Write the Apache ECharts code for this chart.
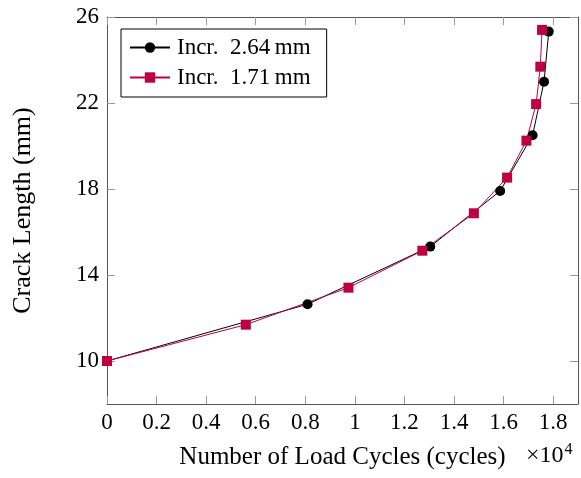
<!DOCTYPE html>
<html>
<head>
<meta charset="utf-8">
<script src="https://cdn.jsdelivr.net/npm/echarts@6/dist/echarts.min.js"></script>
<style>
    html, body { margin: 0; padding: 0; background: #fff; }
    #chart { width: 581px; height: 478px; }
</style>
</head>
<body>
<div id="chart"></div>
<script>
// 데이터
var seriesNames = ['Incr.  2.64\u2009mm', 'Incr.  1.71\u2009mm'];
var cyclesA = [0, 8090, 13040, 15860, 17170, 17630, 17820];
var crackA = [10, 12.64, 15.32, 17.91, 20.50, 22.99, 25.32];
var cyclesB = [0, 5600, 9740, 12720, 14800, 16140, 16920, 17310, 17480, 17550];
var crackB = [10, 11.69, 13.41, 15.13, 16.87, 18.53, 20.25, 21.95, 23.69, 25.40];
var xTicks = [0, 2000, 4000, 6000, 8000, 10000, 12000, 14000, 16000, 18000];
var yTicks = [10, 14, 18, 22, 26];

var FONT = '"Liberation Serif", "DejaVu Serif", serif';
var AXIS_COLOR = '#555';
var TICK_COLOR = '#999';

function pairs(xs, ys) {
    return xs.map(function(x, i) { return [x, ys[i]]; });
}

function frameAxis(position, ticks, showLabel, extra) {
    var axis = {
        type: 'value',
        position: position,
        axisLine: { show: true, onZero: false, lineStyle: { color: AXIS_COLOR, width: 1 } },
        axisTick: { show: true, inside: true, length: 8, customValues: ticks,
                    lineStyle: { color: TICK_COLOR, width: 1 } },
        axisLabel: { show: showLabel, customValues: ticks, fontFamily: FONT,
                     fontSize: 23, color: '#000' },
        splitLine: { show: false }
    };
    for (var k in extra) axis[k] = extra[k];
    return axis;
}

var chart = echarts.init(document.getElementById('chart'));

var option = {
    animation: false,
    grid: { left: 107, top: 17, width: 471, height: 387, containLabel: false },
    legend: {
        data: seriesNames,
        orient: 'vertical',
        left: 121,
        top: 29,
        padding: [7, 16, 8, 8],
        itemGap: 7,
        itemWidth: 40,
        itemHeight: 13,
        borderColor: '#000',
        borderWidth: 1,
        backgroundColor: '#fff',
        textStyle: { fontFamily: FONT, fontSize: 23, color: '#000', padding: [0, 0, 0, 2] }
    },
    xAxis: [
        frameAxis('bottom', xTicks, true, {
            min: 0, max: 19000,
            name: 'Number of Load Cycles (cycles)',
            nameLocation: 'middle',
            nameGap: 41,
            nameTextStyle: { fontFamily: FONT, fontSize: 25, color: '#000' }
        }),
        frameAxis('top', xTicks, false, { min: 0, max: 19000 })
    ],
    yAxis: [
        frameAxis('left', yTicks, true, {
            min: 8, max: 26,
            name: 'Crack Length (mm)',
            nameLocation: 'middle',
            nameGap: 71,
            nameTextStyle: { fontFamily: FONT, fontSize: 26, color: '#000' }
        }),
        frameAxis('right', yTicks, false, { min: 8, max: 26 })
    ],
    series: [
        {
            name: seriesNames[0],
            type: 'line',
            data: pairs(cyclesA, crackA),
            symbol: 'circle',
            symbolSize: 10,
            lineStyle: { color: '#000', width: 1 },
            itemStyle: { color: '#000' }
        },
        {
            name: seriesNames[1],
            type: 'line',
            data: pairs(cyclesB, crackB),
            symbol: 'rect',
            symbolSize: 10,
            lineStyle: { color: '#BF0040', width: 1 },
            itemStyle: { color: '#BF0040' }
        }
    ]
};

// x축 값 표시: 1e4 단위
option.xAxis[0].axisLabel.formatter = function(v) { return String(v / 10000); };
option.xAxis[0].axisLabel.margin = 7;
option.yAxis[0].axisLabel.margin = 8;

// ×10^4 배율 표시
option.graphic = [{
    type: 'text',
    left: 526,
    top: 442,
    style: {
        text: '{b|×10}{s|4}',
        rich: {
            b: { fontFamily: FONT, fontSize: 24, color: '#000' },
            s: { fontFamily: FONT, fontSize: 16, color: '#000', verticalAlign: 'top', padding: [0, 0, 12, 1] }
        }
    }
}];

chart.setOption(option);
</script>
</body>
</html>
